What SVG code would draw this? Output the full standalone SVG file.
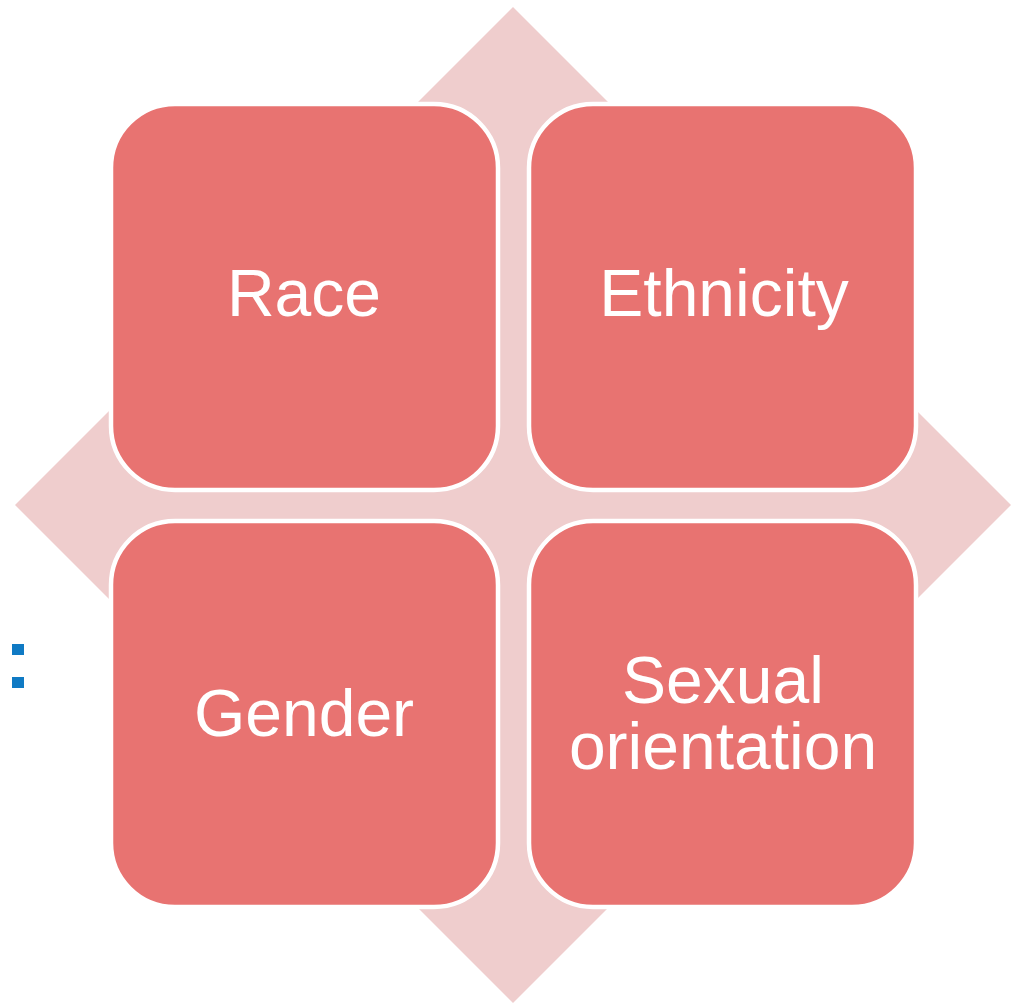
<svg xmlns="http://www.w3.org/2000/svg" width="1012" height="1003" viewBox="0 0 1012 1003">
  <style>
    .tile { fill: #E87371; stroke: #FFFFFF; stroke-width: 4.5; }
    .label { fill: #FFFFFF; font-family: "Liberation Sans", Arial, sans-serif; font-size: 66px; text-anchor: middle; }
    .bullet { fill: #0F7AC4; }
  </style>
  <rect width="1012" height="1003" fill="#FFFFFF"/>
  <!-- background diamond -->
  <polygon id="diamond" points="513,7 1011,505 513,1003 15,505" fill="#EFCDCD"/>
  <!-- stray bullet marks on the left margin -->
  <rect class="bullet" x="12" y="644" width="12" height="11"/>
  <rect class="bullet" x="12" y="677" width="12" height="11"/>
  <g id="connectors"/>
  <g id="race">
    <rect class="tile" x="111" y="104" width="387" height="386" rx="64" ry="64"/>
    <text class="label" x="304" y="316">Race</text>
  </g>
  <g id="ethnicity">
    <rect class="tile" x="529" y="104" width="387" height="386" rx="64" ry="64"/>
    <text class="label" x="724" y="316">Ethnicity</text>
  </g>
  <g id="gender">
    <rect class="tile" x="111" y="521" width="387" height="386" rx="64" ry="64"/>
    <text class="label" x="304" y="736">Gender</text>
  </g>
  <g id="sexual-orientation">
    <rect class="tile" x="529" y="521" width="387" height="386" rx="64" ry="64"/>
    <text class="label" x="723" y="703">Sexual</text>
    <text class="label" x="723" y="769">orientation</text>
  </g>
</svg>
